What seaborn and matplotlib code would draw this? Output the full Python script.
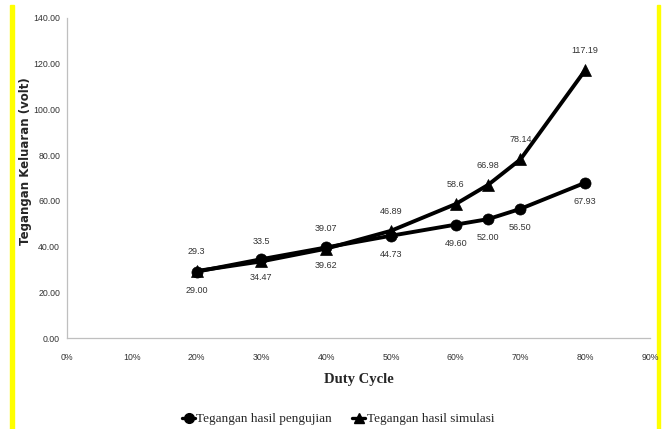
import matplotlib
matplotlib.use("Agg")
import matplotlib.pyplot as plt
import seaborn as sns
import pandas as pd
from matplotlib.patches import Rectangle
from matplotlib.lines import Line2D

duty = [20, 30, 40, 50, 60, 65, 70, 80]
pengujian = [29.00, 34.47, 39.62, 44.73, 49.60, 52.00, 56.50, 67.93]
simulasi = [29.3, 33.5, 39.07, 46.89, 58.6, 66.98, 78.14, 117.19]
label_pengujian = ["29.00", "34.47", "39.62", "44.73", "49.60", "52.00", "56.50", "67.93"]
label_simulasi = ["29.3", "33.5", "39.07", "46.89", "58.6", "66.98", "78.14", "117.19"]
series_names = ["Tegangan hasil pengujian", "Tegangan hasil simulasi"]
xticks = [0, 10, 20, 30, 40, 50, 60, 70, 80, 90]
yticks = [0, 20, 40, 60, 80, 100, 120, 140]

sns.set_theme(style="white")
narrow = ["Liberation Sans", "DejaVu Sans"]
serif = ["Liberation Serif", "DejaVu Serif"]

df = pd.DataFrame({
    "duty": duty * 2,
    "v": pengujian + simulasi,
    "series": [series_names[0]] * len(duty) + [series_names[1]] * len(duty),
})

W, H = 667, 429
top, bottom, left, right = 18, 338, 67, 650
fig = plt.figure(figsize=(W / 100, H / 100), dpi=100)
ax = fig.add_axes([left / W, 1 - bottom / H, (right - left) / W, (bottom - top) / H])

sns.lineplot(data=df, x="duty", y="v", hue="series", style="series",
             markers={series_names[0]: "o", series_names[1]: "^"},
             dashes=False, palette={series_names[0]: "black", series_names[1]: "black"},
             linewidth=2.8, markersize=8, markeredgecolor="black", markeredgewidth=0.5,
             ax=ax, legend=False)

lab_kw = dict(ha="center", fontsize=6.5, family=narrow, color="#333333")
for x, y, t in zip(duty, simulasi, label_simulasi):
    ax.annotate(t, (x, y), xytext=(0, 11), textcoords="offset points", va="bottom", **lab_kw)
for x, y, t in zip(duty, pengujian, label_pengujian):
    ax.annotate(t, (x, y), xytext=(0, -10), textcoords="offset points", va="top", **lab_kw)

ax.set_xlim(0, 90)
ax.set_ylim(0, 140)
ax.set_xticks(xticks)
ax.set_xticklabels([f"{v}%" for v in xticks], family=narrow, fontsize=6.3, color="#333333")
ax.set_yticks(yticks)
ax.set_yticklabels([f"{v:.2f}" for v in yticks], family=narrow, fontsize=6.3, color="#333333")
ax.tick_params(axis="x", length=0, pad=11)
ax.tick_params(axis="y", length=0, pad=5)
for s in ["top", "right"]:
    ax.spines[s].set_visible(False)
for s in ["left", "bottom"]:
    ax.spines[s].set_color("#bfbfbf")
    ax.spines[s].set_linewidth(0.9)
ax.grid(False)

ax.set_xlabel("Duty Cycle", family=serif, fontsize=10.5, fontweight="bold")
ax.xaxis.set_label_coords(0.5, -(373 - bottom) / (bottom - top))
ax.set_ylabel("Tegangan Keluaran (volt)", fontsize=8.5, fontweight="bold",
              family=["DejaVu Sans"])
ax.yaxis.set_label_coords(-(left - 32) / (right - left), (bottom - 161) / (bottom - top))

handles = [
    Line2D([], [], color="black", marker="o", markersize=7, linewidth=2.4),
    Line2D([], [], color="black", marker="^", markersize=7, linewidth=2.4),
]
fig.legend(handles, series_names, loc="center", bbox_to_anchor=(338 / W, 1 - 419 / H),
           ncol=2, frameon=False, prop={"family": serif, "size": 9.5},
           handlelength=1.0, handletextpad=0.1, columnspacing=1.5)

# yellow side bars
fig.add_artist(Rectangle((10 / W, 0), 4 / W, 1 - 5 / H, transform=fig.transFigure,
                         color="#ffff00", zorder=0))
fig.add_artist(Rectangle((657 / W, 0), 3 / W, 1 - 5 / H, transform=fig.transFigure,
                         color="#ffff00", zorder=0))

fig.savefig("out.png", dpi=100)
